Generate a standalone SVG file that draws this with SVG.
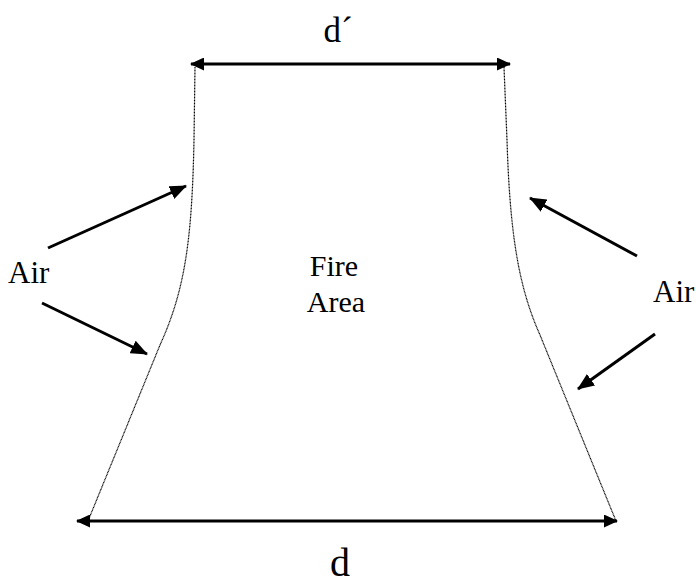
<svg xmlns="http://www.w3.org/2000/svg" width="696" height="585" viewBox="0 0 696 585">
<defs>
<marker id="ahs" markerWidth="14" markerHeight="13" refX="13" refY="6.5" orient="auto-start-reverse" markerUnits="userSpaceOnUse" viewBox="0 0 14 13">
<path d="M0,0 L14,6.5 L0,13 Z" fill="#000"/>
</marker>
<marker id="ahb" markerWidth="17" markerHeight="14" refX="16" refY="7" orient="auto" markerUnits="userSpaceOnUse" viewBox="0 0 17 14">
<path d="M0,0 L17,7 L0,14 Z" fill="#000"/>
</marker>
</defs>
<style>
text{font-family:"Liberation Serif","Times New Roman",serif;fill:#000}
.wall{fill:none;stroke:#000;stroke-width:1.2;stroke-dasharray:1 0.5}
.dim{stroke:#000;stroke-width:3;fill:none}
.air{stroke:#000;stroke-width:3;fill:none}
</style>
<rect width="696" height="585" fill="#fff"/>
<g id="fire-area">
<path class="wall" d="M195,67 L194,140 C192,240 185,290 160,345 L88,521"/>
<path class="wall" d="M504,67 L507,140 C510,240 520,290 540,335 L616,521"/>
<text x="334" y="276" font-size="30" text-anchor="middle">Fire</text>
<text x="336" y="312" font-size="30" text-anchor="middle">Area</text>
</g>
<g id="top-dim">
<text x="338" y="42" font-size="35" text-anchor="middle">d´</text>
</g>
<g id="bottom-dim">
<text x="340" y="576" font-size="40" text-anchor="middle">d</text>
</g>
<g id="air-left">
<text x="8" y="283" font-size="31">Air</text>
</g>
<g id="air-right">
<text x="653" y="302" font-size="31">Air</text>
</g>
<g id="connectors">
<line class="dim" x1="191" y1="64" x2="510" y2="64" marker-start="url(#ahs)" marker-end="url(#ahs)"/>
<line class="dim" x1="77" y1="521" x2="617" y2="521" marker-start="url(#ahs)" marker-end="url(#ahs)"/>
<line class="air" x1="48" y1="248" x2="186" y2="186" marker-end="url(#ahb)"/>
<line class="air" x1="42" y1="303" x2="147" y2="354" marker-end="url(#ahb)"/>
<line class="air" x1="637" y1="256" x2="530" y2="198" marker-end="url(#ahb)"/>
<line class="air" x1="655" y1="334" x2="578" y2="389" marker-end="url(#ahb)"/>
</g>
</svg>
